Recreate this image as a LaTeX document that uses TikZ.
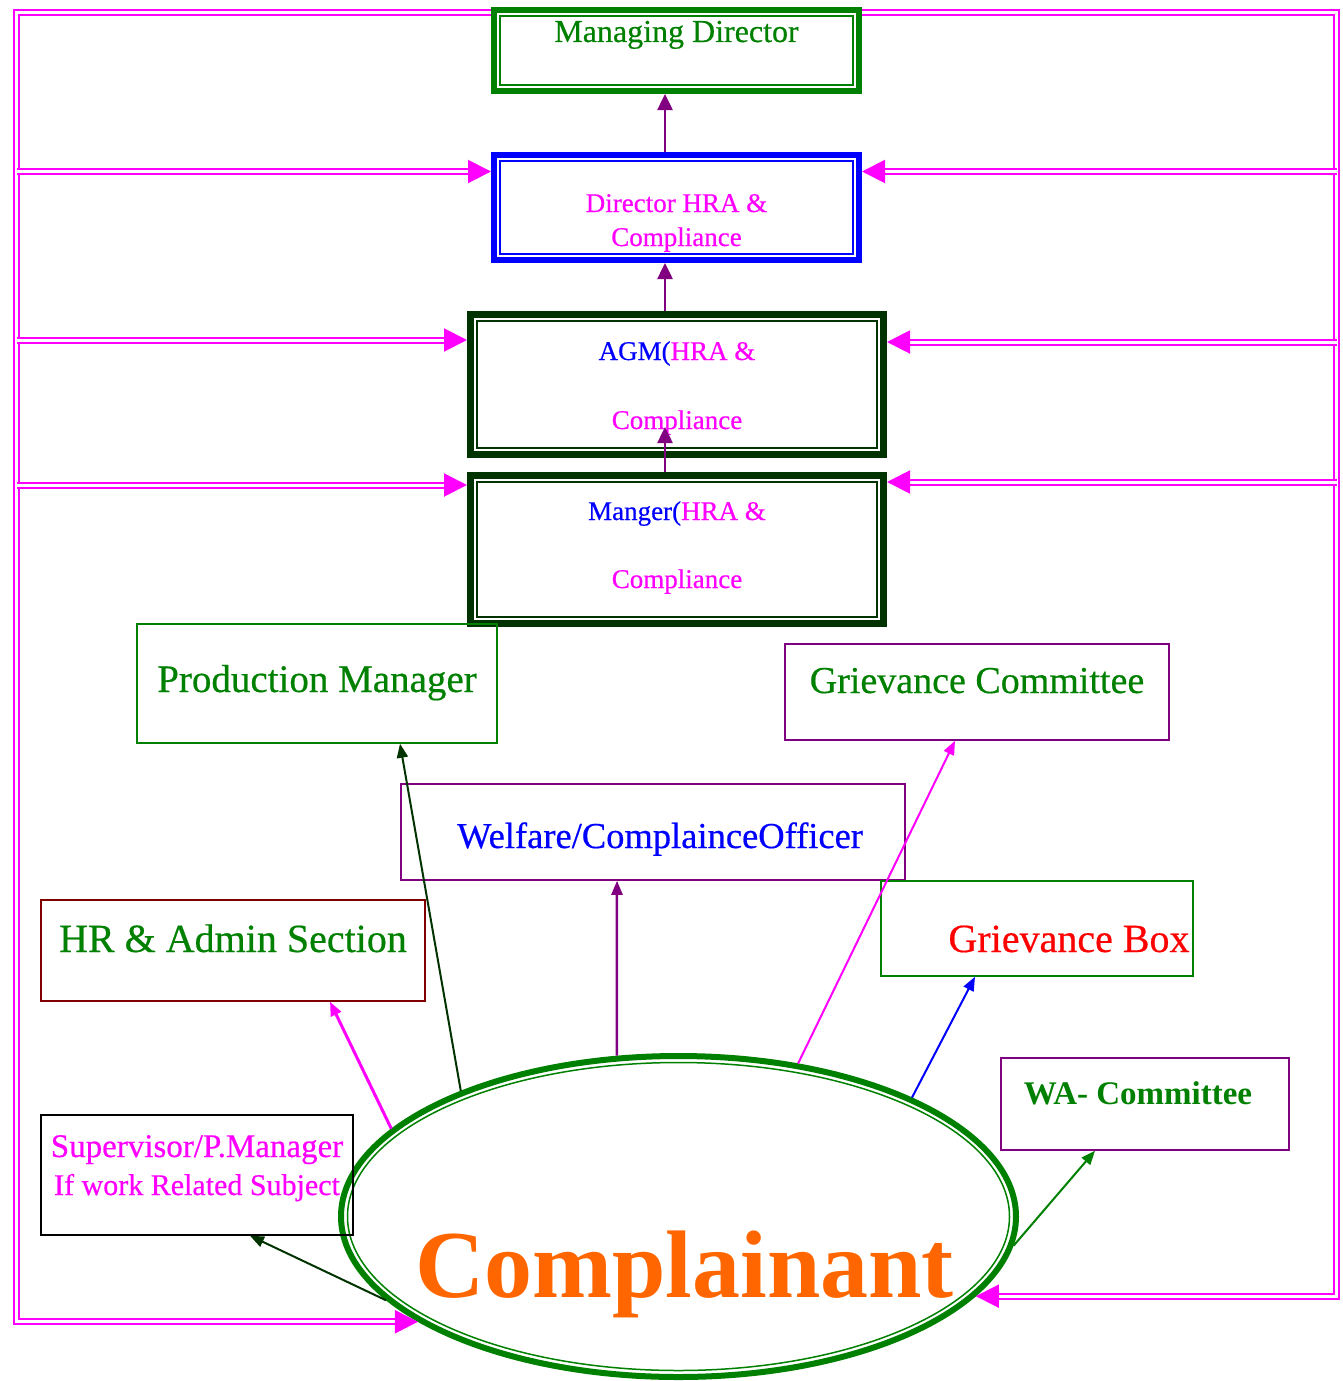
\documentclass[tikz,border=0pt]{standalone}
\usepackage{fontspec}
\setmainfont{Liberation Serif}[UprightFeatures={FakeBold=0.5}]
\usepackage{tikz}
\usetikzlibrary{arrows.meta,shapes.geometric,calc}
\definecolor{grn}{RGB}{0,128,0}
\definecolor{dkgrn}{RGB}{0,51,0}
\definecolor{mag}{RGB}{255,0,255}
\definecolor{pur}{RGB}{128,0,128}
\definecolor{blu}{RGB}{0,0,255}
\definecolor{dkred}{RGB}{128,0,0}
\definecolor{org}{RGB}{255,102,0}
\definecolor{rd}{RGB}{255,0,0}
\newcommand{\boxtext}[2]{\makebox[0pt]{\raisebox{#1}[0pt][0pt]{\begin{tabular}[t]{@{}c@{}}#2\end{tabular}}}}
\newcommand{\fs}[2]{\fontsize{#1}{#2}\selectfont}

\begin{document}
\begin{tikzpicture}[x=1pt,y=-1pt,
  heavy/.style={draw=#1,rectangle,inner sep=0pt},
  b/.style={draw=#1,line width=1.5pt,rectangle,inner sep=2pt},
  dbl/.style={draw=mag,double,double distance=3pt,line width=2pt},
  bigtip/.style={-{Triangle[length=23pt,width=23pt]}},
  a/.style={draw=#1,line width=2pt,-{Triangle[length=14pt,width=11pt]}},
  ua/.style={a=pur,line width=2.5pt,-{Triangle[length=16pt,width=15pt]}}
]
\useasboundingbox (0,0) rectangle (1343,1381);

% chain of officers
\node[heavy=grn,line width=6pt,minimum width=365pt,minimum height=81pt,font=\fs{32}{36},text=grn]
  (md) at (676.5,50.5) {\boxtext{8.5pt}{Managing Director}};
\node[heavy=blu,line width=6pt,minimum width=365pt,minimum height=105pt,font=\fs{27}{34},text=mag]
  (hra) at (676.5,207.5) {\boxtext{-4.5pt}{Director HRA \&\\Compliance}};
\node[heavy=dkgrn,line width=7pt,minimum width=413pt,minimum height=140pt,font=\fs{27}{69},text=mag]
  (agm) at (677,384.5) {\boxtext{24.5pt}{{\color{blu}AGM(}HRA \&\\Compliance}};
\node[heavy=dkgrn,line width=7pt,minimum width=413pt,minimum height=148pt,font=\fs{27}{68},text=mag]
  (mgr) at (677,549.5) {\boxtext{29.5pt}{{\color{blu}Manger(}HRA \&\\Compliance}};
\draw[grn,line width=1.5pt] ([shift={(9,9)}]md.north west) rectangle ([shift={(-9,-9)}]md.south east);
\draw[blu,line width=1.5pt] ([shift={(9,9)}]hra.north west) rectangle ([shift={(-9,-9)}]hra.south east);
\draw[dkgrn,line width=1.5pt] ([shift={(10,10)}]agm.north west) rectangle ([shift={(-10,-10)}]agm.south east);
\draw[dkgrn,line width=1.5pt] ([shift={(10,10)}]mgr.north west) rectangle ([shift={(-10,-10)}]mgr.south east);

% channels
\node[b=grn,minimum width=360pt,minimum height=119pt,font=\fs{39}{42},text=grn]
  (pm) at (317,683.5) {\boxtext{-8.5pt}{Production Manager}};
\node[b=pur,minimum width=384pt,minimum height=96pt,font=\fs{38}{42},text=grn]
  (gc) at (977,692) {\boxtext{-1pt}{Grievance Committee}};
\node[b=pur,minimum width=504pt,minimum height=96pt,font=\fs{36.5}{40},text=blu]
  (wel) at (653,832) {\boxtext{-16pt}{\hspace*{14pt}Welfare/ComplainceOfficer}};
\node[b=dkred,minimum width=384pt,minimum height=101pt,font=\fs{40}{46},text=grn]
  (hr) at (233,950.5) {\boxtext{-1.5pt}{HR \& Admin Section}};
\node[b=grn,minimum width=312pt,minimum height=95pt,font=\fs{40}{44},text=rd]
  (gb) at (1037,928.5) {\boxtext{-23.5pt}{\hspace*{64pt}Grievance Box}};
\node[b=pur,minimum width=288pt,minimum height=92pt,font=\bfseries\fs{33}{36},text=grn]
  (wa) at (1145,1104) {\boxtext{0pt}{WA- Committee\hspace*{14pt}}};

\node[ellipse,draw=grn,line width=6pt,minimum width=675pt,minimum height=321pt,inner sep=0pt,
  font=\bfseries\fs{96}{110},text=org] (comp) at (678.5,1216.5) {\boxtext{-80.5pt}{\hspace*{12pt}Complainant}};
\draw[grn,line width=1.5pt] (comp.center) ellipse [x radius=331pt,y radius=154pt];

\node[b=black,minimum width=312pt,minimum height=120pt,font=\fs{33}{38},text=mag]
  (sup) at (197,1175) {\boxtext{18pt}{Supervisor/P.Manager\\{\fs{30}{38}If work Related Subject}}};

% upward arrows
\draw[ua] ([xshift=-11.5pt]hra.north) -- ([xshift=-11.5pt]md.south);
\draw[ua] ([xshift=-12pt]agm.north) -- ([xshift=-11.5pt]hra.south);
\draw[ua] ([xshift=-12pt]mgr.north) -- ([xshift=-12pt,yshift=31pt]agm.south);

% from the complainant
\draw[a=mag,line width=3pt] (comp.163) -- ([xshift=97pt]hr.south);
\draw[a=dkgrn] (comp.150) -- ([xshift=83pt]pm.south);
\draw[a=pur,line width=2.5pt] (comp.111) -- ([xshift=-36pt]wel.south);
\draw[a=mag] (comp.52) -- ([xshift=-22pt]gc.south);
\draw[a=blu] (comp.27) -- ([xshift=-62pt]gb.south);
\draw[a=grn] (comp.355) -- ([xshift=-50pt]wa.south);
\draw[a=dkgrn] (comp.196) -- ([xshift=53pt]sup.south);

% outer loop
\coordinate (lx) at (16.5,0);
\coordinate (rx) at (1336.5,0);
\draw[dbl,bigtip] ([yshift=-5.5pt]md.north west) -| (lx |- comp.202) -- (comp.202);
\draw[dbl,bigtip] ([yshift=-5.5pt]md.north east) -| (rx |- comp.345) -- (comp.345);
\foreach \n/\l/\r in {hra/19.5/19.5,agm/29/31,mgr/13/10}{
  \coordinate (\n L) at ([yshift=-\l pt]\n.north west);
  \coordinate (\n R) at ([yshift=-\r pt]\n.north east);
  \draw[dbl,bigtip] (lx |- \n L) -- (\n L);
  \draw[dbl,bigtip] (rx |- \n R) -- (\n R);
}
\end{tikzpicture}
\end{document}
